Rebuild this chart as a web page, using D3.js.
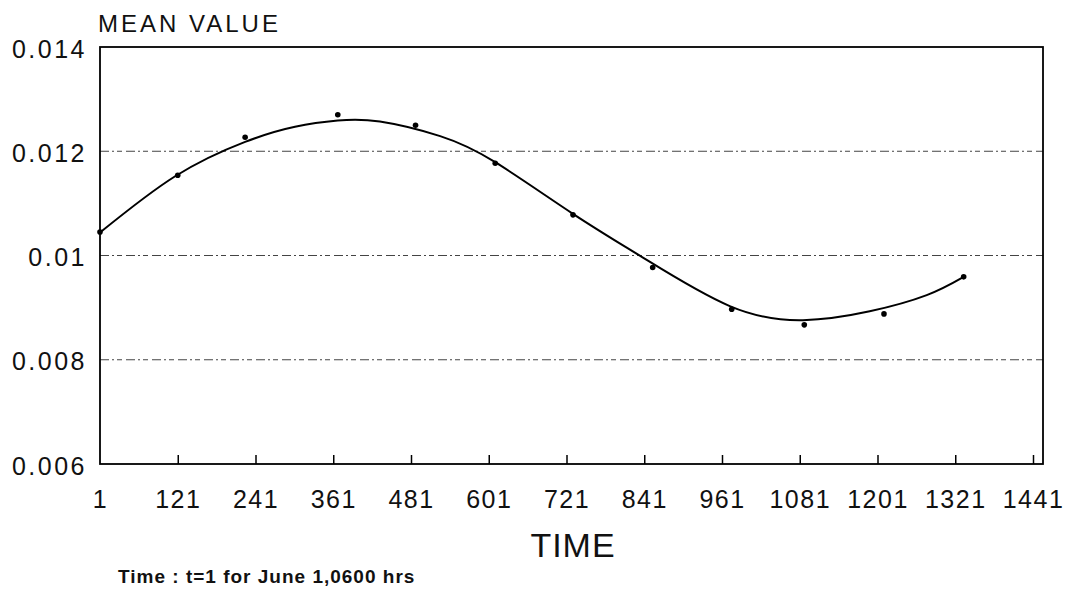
<!DOCTYPE html>
<html>
<head>
<meta charset="utf-8">
<script src="https://cdn.jsdelivr.net/npm/d3@7"></script>
<style>
  html, body { margin: 0; padding: 0; background: #fff; }
  svg { display: block; }
</style>
</head>
<body>
<svg id="chart" width="1067" height="596"></svg>
<script>
// Observed mean values
const obsTime  = [1, 121, 225, 368, 488, 611, 731, 854, 976, 1088, 1211, 1334];
const obsValue = [0.01045, 0.01154, 0.01227, 0.01270, 0.01250, 0.01177, 0.01078, 0.00977, 0.00897, 0.00867, 0.00888, 0.00959];

// Fitted curve
const fitTime  = [1, 117, 225, 302, 368, 433, 526, 611, 731, 839, 973, 1086, 1189, 1277, 1334];
const fitValue = [0.01044, 0.01152, 0.01218, 0.01247, 0.01259, 0.01257, 0.01229, 0.01179, 0.01080, 0.00996, 0.00903, 0.00876, 0.00893, 0.00924, 0.00959];

// Axis ticks
const xTicks = [1, 121, 241, 361, 481, 601, 721, 841, 961, 1081, 1201, 1321, 1441];
const yTicks = [0.006, 0.008, 0.01, 0.012, 0.014];
const yTickLabels = ["0.006", "0.008", "0.01", "0.012", "0.014"];
const gridValues = [0.008, 0.01, 0.012];

const svg = d3.select("#chart");
const plotLeft = 100, plotRight = 1043, plotTop = 47, plotBottom = 464;

const x = d3.scaleLinear().domain([1, 1441]).range([plotLeft, 1033]);
const y = d3.scaleLinear().domain([0.006, 0.014]).range([plotBottom, plotTop]);

const numFont = "'Liberation Sans', Arial, sans-serif";

// Dash-dot grid lines
svg.append("g").selectAll("line").data(gridValues).join("line")
  .attr("x1", plotLeft).attr("x2", plotRight)
  .attr("y1", d => y(d)).attr("y2", d => y(d))
  .attr("stroke", "#444").attr("stroke-width", 1)
  .attr("stroke-dasharray", "9 3 2 3 5 4");

// Frame
svg.append("rect")
  .attr("x", plotLeft).attr("y", plotTop)
  .attr("width", plotRight - plotLeft).attr("height", plotBottom - plotTop)
  .attr("fill", "none").attr("stroke", "#000").attr("stroke-width", 1.8);

// X ticks (pointing up from the bottom edge)
const xAxis = d3.axisBottom(x).tickValues(xTicks).tickFormat(d3.format("d"))
  .tickSizeInner(-9).tickSizeOuter(0).tickPadding(26);
const gx = svg.append("g").attr("transform", `translate(0,${plotBottom})`).call(xAxis);
gx.select(".domain").remove();
gx.selectAll(".tick line").attr("stroke", "#000").attr("stroke-width", 1.5)
  .attr("display", d => d === 1 ? "none" : null);
gx.selectAll(".tick text")
  .attr("font-family", numFont).attr("font-size", 25).attr("letter-spacing", 1.5)
  .attr("fill", "#111").attr("dy", "0.71em");

// Y labels
const yAxis = d3.axisLeft(y).tickValues(yTicks).tickSize(0).tickPadding(13)
  .tickFormat((d, i) => yTickLabels[i]);
const gy = svg.append("g").attr("transform", `translate(${plotLeft},0)`).call(yAxis);
gy.select(".domain").remove();
gy.selectAll(".tick text")
  .attr("font-family", numFont).attr("font-size", 25).attr("letter-spacing", 2.5)
  .attr("fill", "#111").attr("dy", "0.4em");

// Fitted curve
const line = d3.line()
  .x((d, i) => x(fitTime[i]))
  .y((d, i) => y(fitValue[i]))
  .curve(d3.curveNatural);
svg.append("path")
  .attr("d", line(fitValue))
  .attr("fill", "none").attr("stroke", "#000").attr("stroke-width", 2);

// Observed points
svg.append("g").selectAll("circle").data(obsValue).join("circle")
  .attr("cx", (d, i) => x(obsTime[i]))
  .attr("cy", d => y(d))
  .attr("r", 2.8).attr("fill", "#000");

// Titles
svg.append("text").attr("x", 98).attr("y", 32)
  .attr("font-family", numFont).attr("font-size", 24).attr("letter-spacing", 3)
  .attr("fill", "#111").text("MEAN VALUE");

svg.append("text").attr("x", 573).attr("y", 557).attr("text-anchor", "middle")
  .attr("font-family", numFont).attr("font-size", 34).attr("letter-spacing", 1)
  .attr("fill", "#111").text("TIME");

svg.append("text").attr("x", 118).attr("y", 583)
  .attr("font-family", numFont).attr("font-size", 19).attr("font-weight", "bold")
  .attr("letter-spacing", 1)
  .attr("fill", "#111").text("Time : t=1 for June 1,0600 hrs");
</script>
</body>
</html>
